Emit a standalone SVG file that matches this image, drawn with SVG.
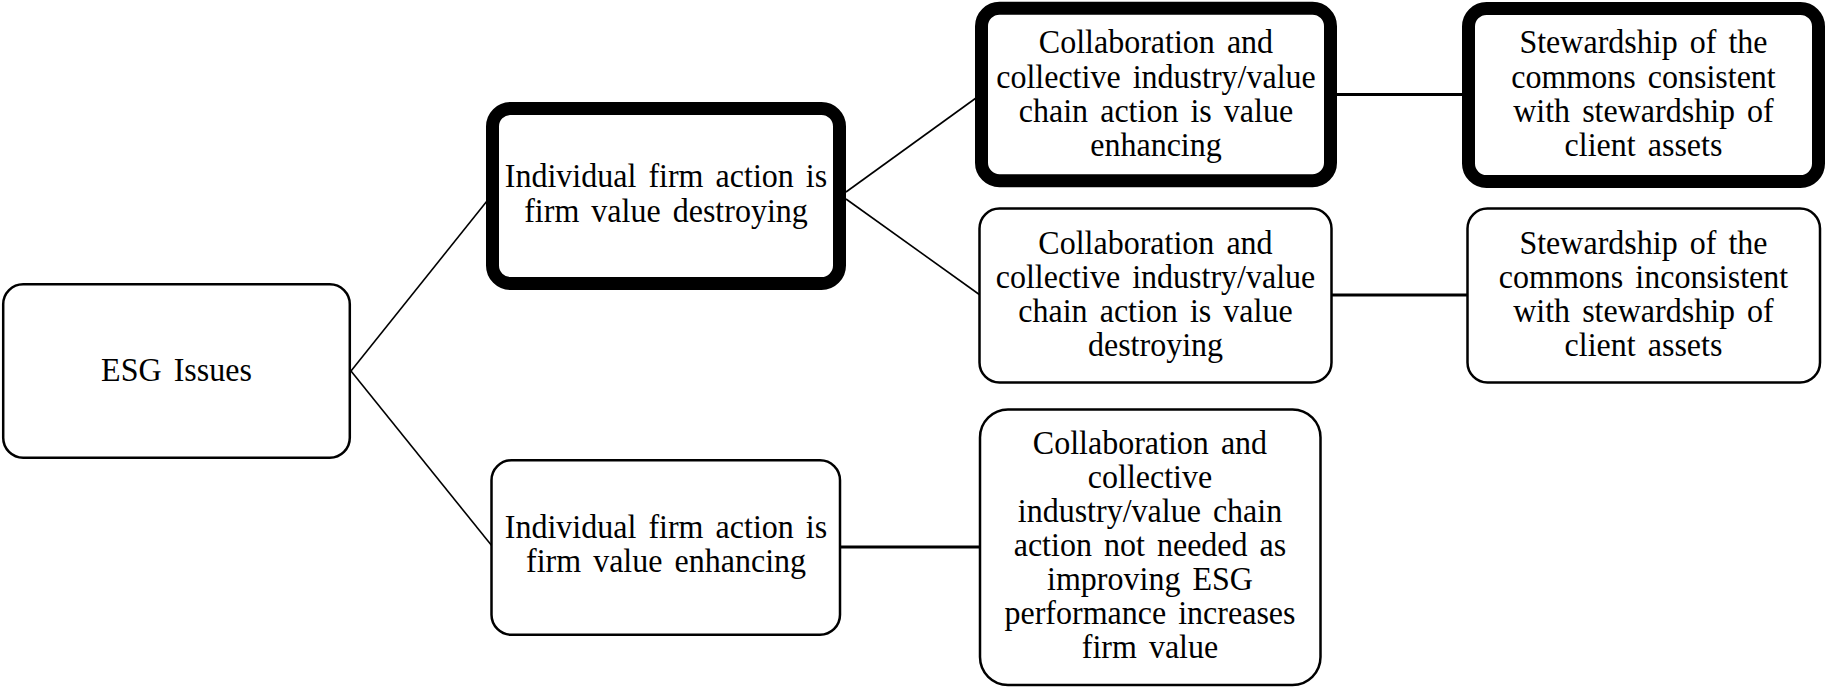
<svg xmlns="http://www.w3.org/2000/svg" width="1826" height="687" viewBox="0 0 1826 687">
<style>
.thin{fill:#fff;stroke:#000;stroke-width:2.5}
.thick{fill:#fff;stroke:#000;stroke-width:13}
.conn line{stroke:#000;fill:none}
.d{stroke-width:1.6}
.h{stroke-width:3}
text{font-family:"Liberation Serif","Times New Roman",serif;font-size:33px;fill:#000;text-anchor:middle;word-spacing:4.2px;transform-box:fill-box;transform-origin:center;transform:scaleX(0.97)}
</style>
<rect width="1826" height="687" fill="#fff"/>
<g id="connectors" class="conn">
<line class="d" x1="351" y1="371" x2="487" y2="201"/>
<line class="d" x1="351" y1="371" x2="492" y2="546"/>
<line class="d" x1="846" y1="192" x2="976" y2="98"/>
<line class="d" x1="846" y1="199" x2="980" y2="295"/>
<line class="h" x1="1336" y1="94.5" x2="1463" y2="94.5"/>
<line class="h" x1="1331" y1="295" x2="1468" y2="295"/>
<line class="h" x1="840" y1="547" x2="980" y2="547"/>
</g>
<g id="esg">
<rect class="thin" x="3.2" y="284.2" width="346.6" height="173.6" rx="20"/>
<text x="176.5" y="381">ESG Issues</text>
</g>
<g id="firm-destroying">
<rect class="thick" x="492.5" y="108.5" width="347" height="175" rx="18"/>
<text x="666" y="187">Individual firm action is</text>
<text x="666" y="222">firm value destroying</text>
</g>
<g id="firm-enhancing">
<rect class="thin" x="491.5" y="460.2" width="348.5" height="174.6" rx="20"/>
<text x="666" y="538.5">Individual firm action is</text>
<text x="666" y="572.5">firm value enhancing</text>
</g>
<g id="collab-enhancing">
<rect class="thick" x="981.5" y="8.2" width="349" height="172.5" rx="18"/>
<text x="1156" y="53.5">Collaboration and</text>
<text x="1156" y="88">collective industry/value</text>
<text x="1156" y="122">chain action is value</text>
<text x="1156" y="156">enhancing</text>
</g>
<g id="stewardship-consistent">
<rect class="thick" x="1468.5" y="8.5" width="350" height="173" rx="18"/>
<text x="1643.5" y="53.5">Stewardship of the</text>
<text x="1643.5" y="88">commons consistent</text>
<text x="1643.5" y="122">with stewardship of</text>
<text x="1643.5" y="156">client assets</text>
</g>
<g id="collab-destroying">
<rect class="thin" x="979.5" y="208.5" width="352" height="174" rx="20"/>
<text x="1155.5" y="254">Collaboration and</text>
<text x="1155.5" y="288">collective industry/value</text>
<text x="1155.5" y="322">chain action is value</text>
<text x="1155.5" y="356">destroying</text>
</g>
<g id="stewardship-inconsistent">
<rect class="thin" x="1467.5" y="208.5" width="352.5" height="174" rx="20"/>
<text x="1643.5" y="254">Stewardship of the</text>
<text x="1643.5" y="288">commons inconsistent</text>
<text x="1643.5" y="322">with stewardship of</text>
<text x="1643.5" y="356">client assets</text>
</g>
<g id="collab-not-needed">
<rect class="thin" x="980" y="409.5" width="340.5" height="275.5" rx="28"/>
<text x="1150" y="454">Collaboration and</text>
<text x="1150" y="488">collective</text>
<text x="1150" y="522">industry/value chain</text>
<text x="1150" y="556">action not needed as</text>
<text x="1150" y="590">improving ESG</text>
<text x="1150" y="624">performance increases</text>
<text x="1150" y="658">firm value</text>
</g>
</svg>
